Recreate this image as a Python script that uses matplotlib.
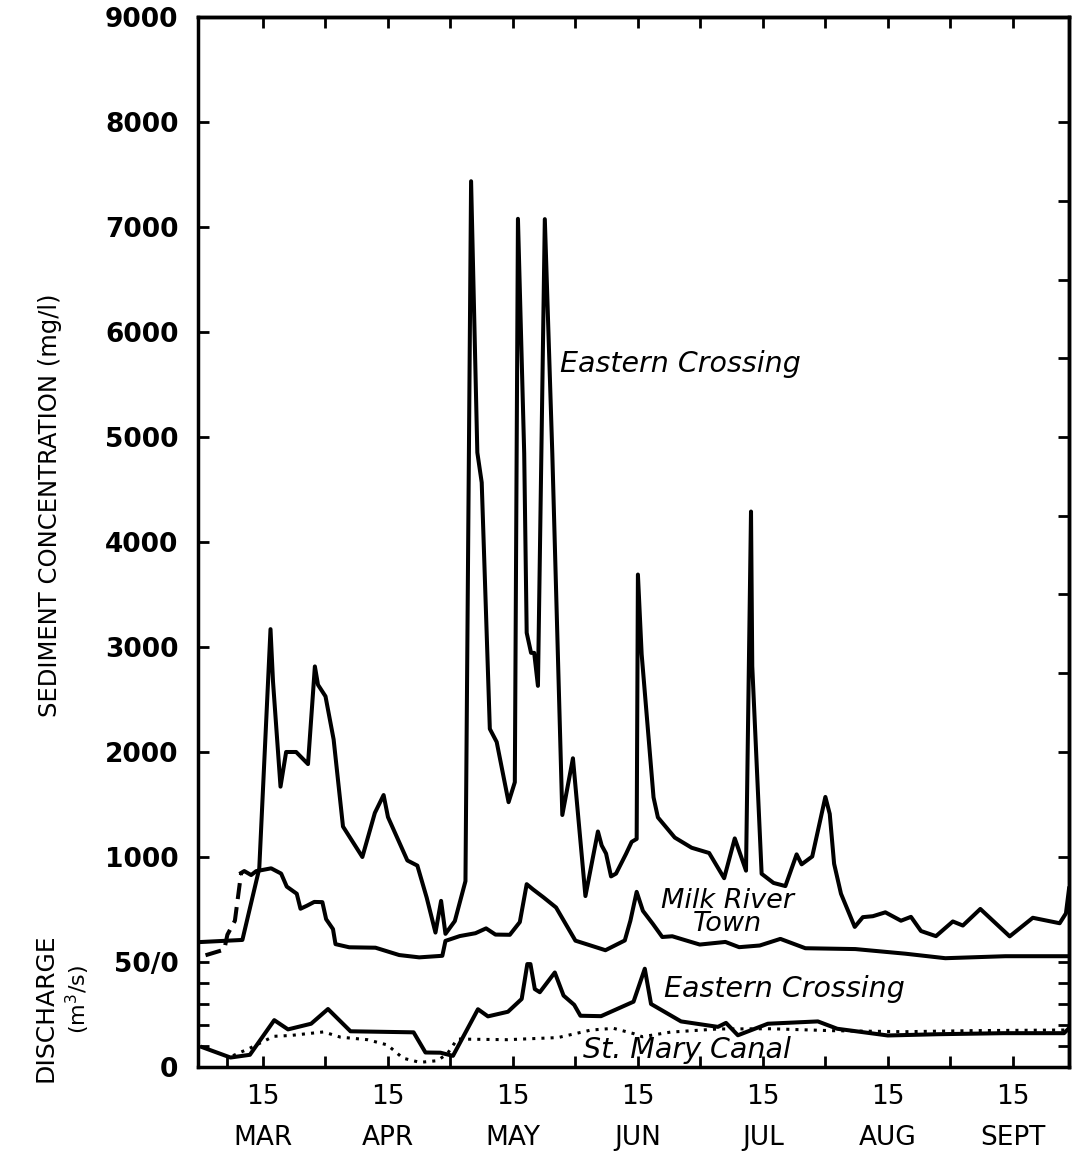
import numpy as np
import matplotlib.pyplot as plt

# x is counted in half-months: 0 = 1 Mar, 1 = 15 Mar, 2 = 1 Apr, ... 13 = 15 Sept

# sediment concentration (mg/l), Eastern Crossing
ec_sed_x = [0.0, 0.67, 0.94, 1.12, 1.16, 1.28, 1.37, 1.53, 1.72, 1.83, 1.88, 2.00,
            2.13, 2.28, 2.59, 2.79, 2.93, 3.00, 3.31, 3.47, 3.62, 3.76, 3.85, 3.92,
            4.07, 4.24, 4.33, 4.43, 4.50, 4.63, 4.74, 4.93, 5.03, 5.08, 5.18, 5.22,
            5.29, 5.34, 5.40, 5.51, 5.63, 5.79, 5.96, 6.16, 6.36, 6.42, 6.49, 6.57,
            6.65, 6.81, 6.90, 6.98, 7.00, 7.06, 7.25, 7.32, 7.59, 7.86, 8.14, 8.38,
            8.55, 8.73, 8.81, 8.83, 8.98, 9.17, 9.36, 9.54, 9.62, 9.79, 10.00, 10.07,
            10.14, 10.25, 10.47, 10.60, 10.76, 10.96, 11.21, 11.37, 11.53, 11.77,
            12.04, 12.20, 12.48, 12.95, 13.32, 13.75, 13.85, 13.90]
ec_sed = [190, 210, 890, 3170, 2670, 1670, 2000, 2000, 1885, 2815, 2640, 2530,
          2120, 1290, 1000, 1420, 1590, 1380, 967, 918, 612, 280, 582, 268,
          390, 770, 7436, 4852, 4567, 2220, 2095, 1522, 1712, 7078, 4846, 3135,
          2944, 2944, 2630, 7075, 4841, 1400, 1940, 628, 1243, 1110, 1033, 815,
          842, 1030, 1144, 1172, 3690, 2930, 1568, 1377, 1185, 1088, 1038, 798,
          1177, 870, 4290, 2817, 840, 753, 723, 1025, 930, 1005, 1572, 1410,
          935, 650, 334, 427, 436, 473, 393, 430, 295, 246,
          386, 347, 505, 244, 421, 369, 463, 700]

# sediment concentration (mg/l), Milk River Town
mrt_x = [0.08, 0.38, 0.43, 0.55, 0.65, 0.70, 0.81, 0.89, 1.13, 1.29, 1.38, 1.54,
         1.60, 1.70, 1.82, 1.95, 2.01, 2.12, 2.16, 2.38, 2.80, 3.18, 3.50, 3.87,
         3.92, 4.15, 4.40, 4.57, 4.72, 4.95, 5.11, 5.22, 5.32, 5.49, 5.69, 6.00,
         6.27, 6.48, 6.79, 6.88, 6.98, 7.08, 7.24, 7.39, 7.55, 7.71, 7.99, 8.40,
         8.62, 8.95, 9.28, 9.68, 10.48, 11.28, 11.92, 12.88, 13.90]
mrt_sed = [64, 118, 260, 393, 848, 866, 828, 865, 892, 842, 718, 650,
           507, 535, 572, 570, 408, 313, 170, 140, 136, 66, 44, 59,
           201, 247, 274, 320, 261, 259, 380, 741, 692, 615, 519, 203,
           152, 112, 205, 394, 668, 487, 362, 238, 245, 216, 166, 191,
           141, 157, 220, 131, 123, 79, 36, 55, 55]

# discharge (m3/s), Eastern Crossing
ec_q_x = [0.03, 0.48, 0.79, 1.18, 1.40, 1.77, 2.04, 2.40, 3.41, 3.60, 3.84, 4.04,
          4.44, 4.60, 4.92, 5.14, 5.23, 5.28, 5.35, 5.43, 5.67, 5.81, 5.98, 6.08,
          6.41, 6.93, 7.11, 7.21, 7.69, 8.28, 8.41, 8.60, 9.08, 9.88, 10.19, 11.0,
          11.80, 12.85, 13.82, 13.90]
ec_q = [9.4, 4.5, 5.8, 22.3, 17.9, 20.6, 27.6, 17.0, 16.5, 6.9, 6.8, 5.3,
        27.5, 24.1, 26.3, 32.4, 49.0, 49.0, 37.1, 35.6, 45.0, 34.0, 29.6, 24.4,
        24.2, 31.1, 46.8, 30.0, 21.7, 19.1, 21.0, 15.1, 20.6, 21.7, 18.2, 15.0,
        15.6, 16.1, 16.1, 18.5]

# discharge (m3/s), St. Mary Canal
smc_x = [0.52, 0.80, 1.17, 1.44, 1.97, 2.24, 2.67, 2.99, 3.24, 3.51, 3.79, 3.95,
         4.11, 4.91, 5.72, 6.25, 6.61, 6.93, 7.07, 7.52, 8.28, 9.13, 10.09, 11.26,
         12.33, 13.77, 13.90]
smc_q = [5.4, 9.1, 14.6, 15.0, 16.7, 14.2, 13.0, 10.5, 4.2, 2.2, 3.0, 6.3,
         13.3, 13.0, 14.0, 17.6, 18.4, 15.9, 14.4, 16.6, 18.1, 18.2, 17.3, 16.8,
         17.3, 17.6, 17.6]

months = ['MAR', 'APR', 'MAY', 'JUN', 'JUL', 'AUG', 'SEPT']
sed_ticks = list(range(1000, 9001, 1000))

plt.rcParams['font.family'] = ['DejaVu Sans']

fig = plt.figure(figsize=(10.78, 11.58), dpi=100)
ax = fig.add_axes([0.1837, 0.0786, 0.808, 0.9067])
ax.set_xlim(-0.04, 13.9)
ax.set_ylim(-1000, 9000)

# discharge panel sits under the sediment panel: 0..50 m3/s fills -1000..0
ax2 = ax.twinx()
ax2.set_ylim(0, 500)

lw = 2.9
ax.plot(ec_sed_x, ec_sed, color='black', lw=lw)
# Milk River Town starts with a dashed stretch
ax.plot(mrt_x[:5], mrt_sed[:5], color='black', lw=lw, linestyle=(0, (4, 2)))
ax.plot(mrt_x[4:], mrt_sed[4:], color='black', lw=lw)
ax2.plot(ec_q_x, ec_q, color='black', lw=lw)
ax2.plot(smc_x, smc_q, color='black', lw=2.2, linestyle=(0, (1, 2)))

tick_font = dict(fontsize=19, fontweight='bold')

# left ticks
ax.set_yticks([0] + sed_ticks)
ax.set_yticklabels(['50/0'] + [str(v) for v in sed_ticks], **tick_font)
ax.tick_params(axis='y', direction='in', length=8, width=2, pad=14)

ax2.yaxis.tick_left()
ax2.set_yticks([0, 10, 20, 30, 40])
ax2.set_yticklabels(['0', '', '', '', ''], **tick_font)
ax2.tick_params(axis='y', direction='in', length=8, width=2, pad=14)
for s in ax2.spines.values():
    s.set_visible(False)

# bottom ticks
ax.set_xticks(range(1, 14, 2))
ax.set_xticklabels(['15'] * 7, fontsize=19)
ax.set_xticks([0.42] + list(range(2, 13, 2)), minor=True)
ax.tick_params(axis='x', which='both', direction='in', length=8, width=2, pad=12)
for x, m in zip(range(1, 14, 2), months):
    ax.text(x, -0.068, m, transform=ax.get_xaxis_transform(), ha='center',
            va='center', fontsize=19)

# top and right ticks
top = ax.secondary_xaxis('top')
top.set_xticks(range(1, 14))
top.set_xticklabels([])
top.tick_params(direction='in', length=8, width=2)
right = ax.secondary_yaxis('right')
right.set_yticks([-800, -600, -400, -200, 0, 1000] + list(range(2000, 8001, 750)))
right.set_yticklabels([])
right.tick_params(direction='in', length=8, width=2)

for s in list(ax.spines.values()) + [top.spines['top'], right.spines['right']]:
    s.set_linewidth(2.5)

# curve labels
lab = dict(fontsize=20.5, style='italic', ha='left', va='center')
ax.text(5.75, 5700, 'Eastern Crossing', **lab)
ax.text(8.44, 470, 'Milk River\nTown', fontsize=19.5, style='italic',
        ha='center', va='center', multialignment='center', linespacing=0.85)
ax.text(7.41, -256, 'Eastern Crossing', **lab)
ax.text(6.12, -843, 'St. Mary Canal', **lab)

fig.text(50 / 1078, 1 - 505 / 1158, 'SEDIMENT CONCENTRATION (mg/l)', rotation=90,
         ha='center', va='center', fontsize=17.5)
fig.text(46 / 1078, 1 - 1008 / 1158, 'DISCHARGE', rotation=90,
         ha='center', va='center', fontsize=18)
fig.text(78 / 1078, 1 - 1000 / 1158, '(m$^3$/s)', rotation=90,
         ha='center', va='center', fontsize=16)

fig.savefig('out.png', dpi=100)
